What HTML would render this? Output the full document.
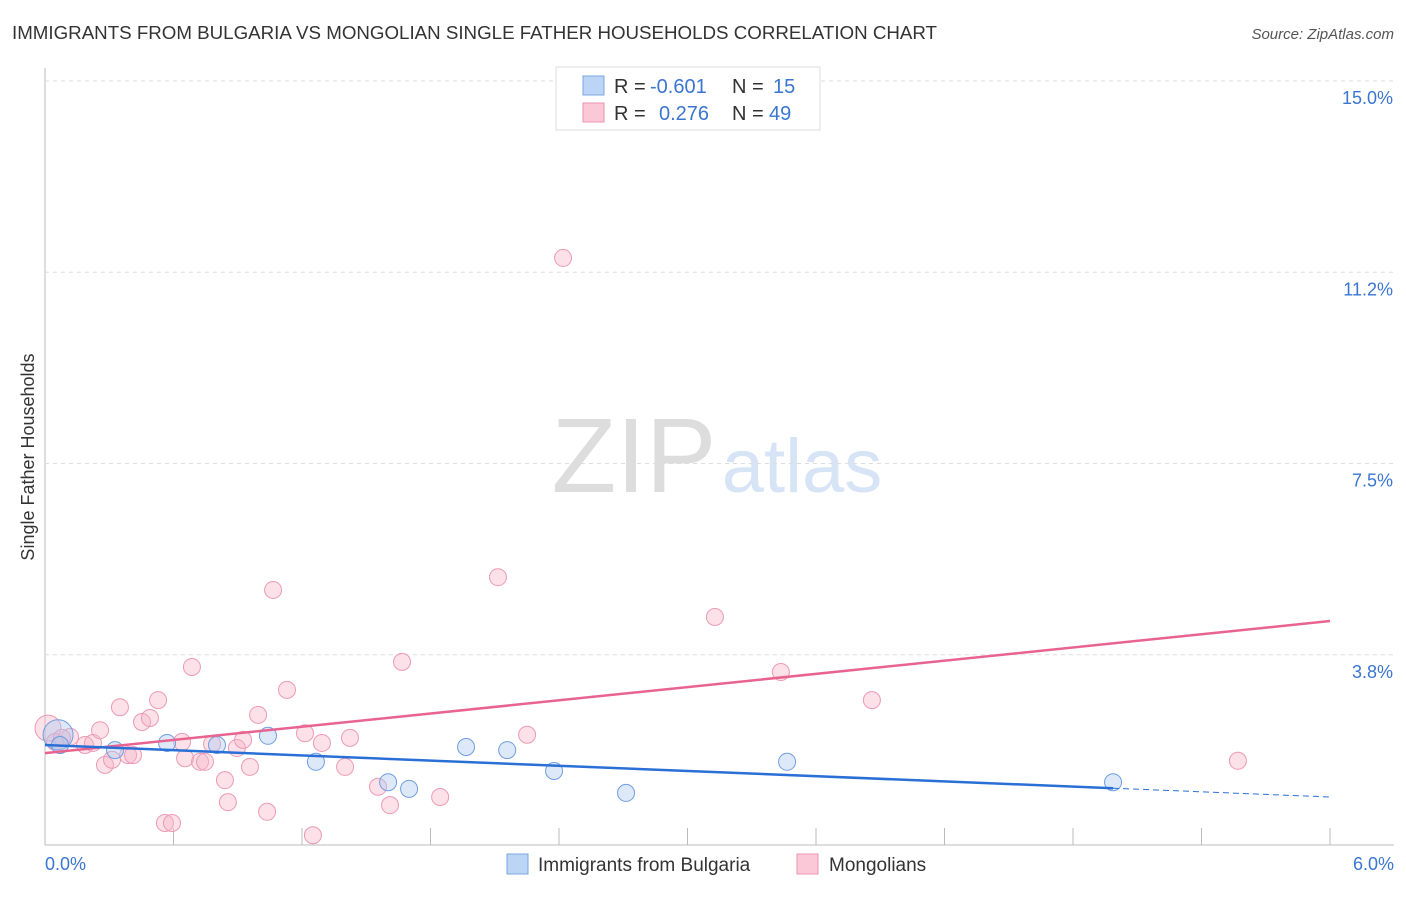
<!DOCTYPE html>
<html><head><meta charset="utf-8"><style>
body{margin:0;background:#fff;font-family:"Liberation Sans",sans-serif}
svg text{font-family:"Liberation Sans",sans-serif}
</style></head><body>
<svg id="c" width="1406" height="892">
<text x="12" y="39" font-size="18" fill="#333" textLength="925" lengthAdjust="spacingAndGlyphs">IMMIGRANTS FROM BULGARIA VS MONGOLIAN SINGLE FATHER HOUSEHOLDS CORRELATION CHART</text>
<text x="1394" y="39" font-size="15" fill="#555" font-style="italic" text-anchor="end">Source: ZipAtlas.com</text>
<text transform="translate(34,457) rotate(-90)" font-size="18" fill="#333" text-anchor="middle">Single Father Households</text>
<text x="634" y="492" font-size="106" fill="#ddd" font-family="Liberation Serif" text-anchor="middle">ZIP</text>
<text x="802" y="492" font-size="76" fill="#d6e4f5" text-anchor="middle">atlas</text>
<g id="grid"></g><g id="pts"></g><g id="lines"></g>
<g>
<rect x="556" y="67" width="264" height="63" fill="#fff" stroke="#ddd"/>
<rect x="583" y="76" width="21" height="19" fill="#bcd4f5" stroke="#7aa6e0"/>
<rect x="583" y="103" width="21" height="19" fill="#fbc8d8" stroke="#eb94b0"/>
<text x="614" y="93" font-size="20" fill="#333">R = <tspan fill="#3a76d0" x="650">-0.601</tspan><tspan x="732">N = </tspan><tspan fill="#3a76d0" x="773">15</tspan></text>
<text x="614" y="120" font-size="20" fill="#333">R = <tspan fill="#3a76d0" x="659">0.276</tspan><tspan x="732">N = </tspan><tspan fill="#3a76d0" x="769">49</tspan></text>
</g>
<g>
<rect x="507" y="854" width="21" height="20" fill="#bcd4f5" stroke="#7aa6e0"/>
<text x="538" y="871" font-size="19" fill="#333">Immigrants from Bulgaria</text>
<rect x="797" y="854" width="21" height="20" fill="#fbc8d8" stroke="#eb94b0"/>
<text x="829" y="871" font-size="19" fill="#333">Mongolians</text>
</g>
</svg>
<script>
const xTicks=[0,0.6,1.2,1.8,2.4,3.0,3.6,4.2,4.8,5.4,6.0];
const yTicks=[3.75,7.5,11.25,15];
const yTickLabels=["3.8%","7.5%","11.2%","15.0%"];
const pinkX=[0.014,0.047,0.070,0.117,0.187,0.224,0.257,0.280,0.313,0.350,0.388,0.411,0.453,0.490,0.528,0.560,0.593,0.640,0.654,0.686,0.724,0.747,0.780,0.840,0.854,0.896,0.925,0.957,0.995,1.037,1.065,1.130,1.214,1.251,1.293,1.401,1.424,1.555,1.611,1.667,1.845,2.115,2.251,2.419,3.128,3.436,3.861,5.570,0.079];
const pinkY=[2.35,2.08,2.02,2.18,2.02,2.06,2.31,1.63,1.73,2.76,1.82,1.82,2.47,2.55,2.90,0.49,0.49,2.08,1.76,3.55,1.69,1.69,2.04,1.33,0.90,1.96,2.12,1.59,2.61,0.71,5.06,3.10,2.25,0.25,2.06,1.59,2.16,1.20,0.84,3.65,1.00,5.31,2.22,11.57,4.53,3.45,2.90,1.71,2.16];
const blueX=[0.061,0.070,0.327,0.570,0.803,1.041,1.265,1.602,1.700,1.966,2.158,2.377,2.713,3.465,4.987];
const blueY=[2.22,2.02,1.92,2.06,2.02,2.20,1.69,1.29,1.16,1.98,1.92,1.51,1.08,1.69,1.29];
const pinkTrend=[1.86,4.45];
const blueTrend=[2.02,1.0];
const blueSolidEnd=4.987;
const X=v=>45+v/6*1285, Y=v=>848-v*51.0;
const NS="http://www.w3.org/2000/svg";
function mk(t,a,p){const e=document.createElementNS(NS,t);for(const k in a)e.setAttribute(k,a[k]);p.appendChild(e);return e;}
const g=document.getElementById('grid');
const ax=mk('line',{x1:45,y1:68,x2:45,y2:845,stroke:'#bbb'},g);


const bx=mk('line',{x1:45,y1:845,x2:1394,y2:845,stroke:'#bbb'},g);


yTicks.forEach((v,i)=>{
 const l=mk('line',{x1:45,x2:1394,y1:Y(v)-2,y2:Y(v)-2,stroke:'#ddd','stroke-dasharray':'4,4'},g);
 
 
 const t=mk('text',{x:1393,y:Y(v)+21,'font-size':18,fill:'#3a76d0','text-anchor':'end'},g);t.textContent=yTickLabels[i];
 
 
});
xTicks.forEach((v,i)=>{if(i===0)return;
 const l=mk('line',{x1:X(v),x2:X(v),y1:828,y2:845,stroke:'#bbb'},g);
 
 
});
const t0=mk('text',{x:45,y:870,'font-size':18,fill:'#3a76d0'},g);t0.textContent="0.0%";


const t1=mk('text',{x:1394,y:870,'font-size':18,fill:'#3a76d0','text-anchor':'end'},g);t1.textContent="6.0%";


const P=document.getElementById('pts');
pinkX.forEach((x,i)=>{const c=mk('circle',{cx:X(x),cy:Y(pinkY[i]),r:i===0?13:8.5,fill:'rgba(248,180,200,0.4)',stroke:'#ec9ab5','stroke-width':1},P);
 
 });
blueX.forEach((x,i)=>{const c=mk('circle',{cx:X(x),cy:Y(blueY[i]),r:i===0?15:8.5,fill:'rgba(170,200,240,0.4)',stroke:'#6f9ee0','stroke-width':1},P);
 
 });
const L=document.getElementById('lines');
const pl=mk('line',{x1:X(0),y1:Y(pinkTrend[0]),x2:X(6),y2:Y(pinkTrend[1]),stroke:'#e8648f','stroke-width':2.5},L);


const bAt=v=>blueTrend[0]+(blueTrend[1]-blueTrend[0])*v/6;
const bl=mk('line',{x1:X(0),y1:Y(bAt(0)),x2:X(blueSolidEnd),y2:Y(bAt(blueSolidEnd)),stroke:'#2a6fd6','stroke-width':2.5},L);


const bd=mk('line',{x1:X(blueSolidEnd),y1:Y(bAt(blueSolidEnd)),x2:X(6),y2:Y(bAt(6)),stroke:'#2a6fd6','stroke-width':1,'stroke-dasharray':'6,4'},L);


</script>
</body></html>
